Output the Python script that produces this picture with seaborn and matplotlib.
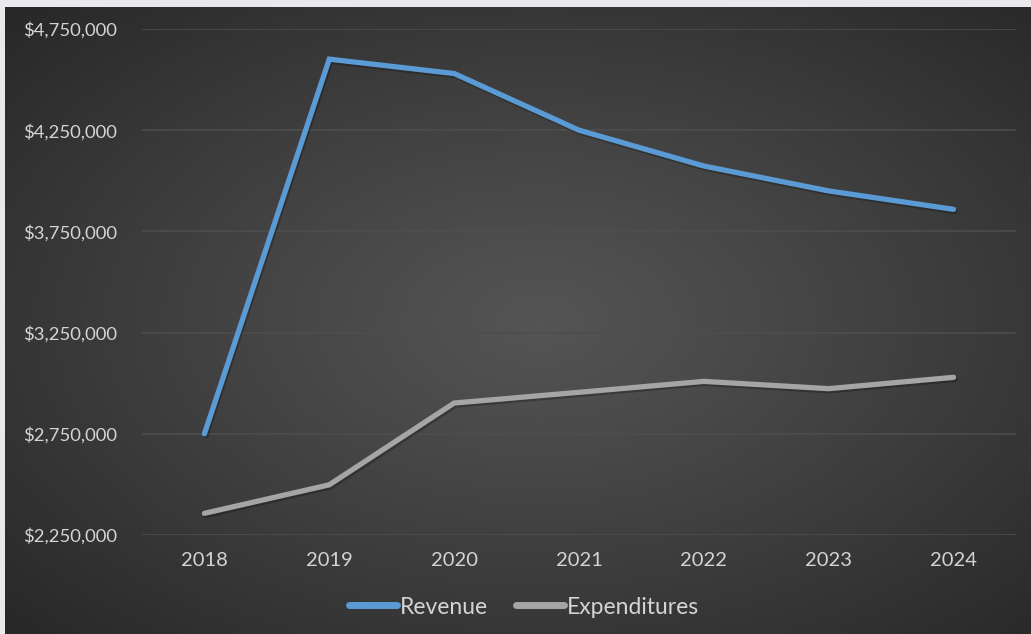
import numpy as np
import pandas as pd
import matplotlib
matplotlib.use("Agg")
import matplotlib.pyplot as plt
import matplotlib.patheffects as pe
from matplotlib.lines import Line2D
from matplotlib.ticker import FuncFormatter
import seaborn as sns

years = ["2018", "2019", "2020", "2021", "2022", "2023", "2024"]
revenue = [2750000, 4601000, 4530000, 4250000, 4073000, 3950000, 3859000]
expenditures = [2357000, 2498000, 2902000, 2955000, 3009000, 2973000, 3029000]
series_names = ["Revenue", "Expenditures"]
colors = ["#5B9BD5", "#A5A5A5"]
y_ticks = [2250000, 2750000, 3250000, 3750000, 4250000, 4750000]

df = pd.DataFrame({
    "Year": years * 2,
    "Value": revenue + expenditures,
    "Series": [series_names[0]] * len(years) + [series_names[1]] * len(years),
})

sns.set_theme(style="white")
plt.rcParams["font.family"] = ["Lato", "DejaVu Sans"]

W, H = 1031, 634
fig = plt.figure(figsize=(W / 100, H / 100), dpi=100)
fig.patch.set_facecolor("#e9e9eb")

# radial gradient background
bg = fig.add_axes([5 / W, 0, 1 - 5 / W, 1 - 7 / H])
bg.set_axis_off()
yy, xx = np.mgrid[0:300, 0:500]
cx, cy = 0.52 * 500, 0.50 * 300
d = np.sqrt(((xx - cx) / 500) ** 2 + ((yy - cy) / 300) ** 2) / 0.72
d = np.clip(d, 0, 1)
c0, c1 = 0.33, 0.155
img = c0 + (c1 - c0) * d ** 1.1
bg.imshow(np.dstack([img, img, img]), aspect="auto", extent=[0, 1, 0, 1], origin="upper")
bg.set_xlim(0, 1)
bg.set_ylim(0, 1)

ax = fig.add_axes([142 / W, 1 - 535 / H, (1016 - 142) / W, (535 - 29) / H])
ax.set_facecolor("none")

sns.lineplot(data=df, x="Year", y="Value", hue="Series", palette=colors,
             linewidth=3.8, ax=ax, legend=False, sort=False)
for ln in ax.get_lines():
    ln.set_solid_capstyle("round")
    ln.set_solid_joinstyle("miter")
    ln.set_path_effects([pe.SimpleLineShadow(offset=(1.0, -1.5), shadow_color="black", alpha=0.25),
                         pe.Normal()])

ax.set_ylim(y_ticks[0], y_ticks[-1])
ax.set_xlim(-0.5, len(years) - 0.5)
ax.set_yticks(y_ticks)
ax.yaxis.set_major_formatter(FuncFormatter(lambda v, p: "${:,.0f}".format(v)))
ax.grid(axis="y", color="#4e4e4e", linewidth=1.1)
ax.grid(axis="x", visible=False)
ax.set_axisbelow(True)
for s in ax.spines.values():
    s.set_visible(False)
ax.tick_params(axis="both", length=0, colors="#d4d4d4", labelsize=13.3)
ax.tick_params(axis="y", pad=18)
ax.tick_params(axis="x", pad=12, labelsize=14.5)
ax.set_xlabel("")
ax.set_ylabel("")

handles = [Line2D([0], [0], color=c, lw=5, solid_capstyle="round") for c in colors]
leg = fig.legend(handles, series_names, loc="center", bbox_to_anchor=(524 / W, 1 - 607 / H),
                 ncol=2, frameon=False, handlelength=2.1, handletextpad=0.12,
                 columnspacing=1.2, fontsize=16.5)
for t in leg.get_texts():
    t.set_color("#d4d4d4")

fig.savefig("out.png", dpi=100, facecolor=fig.get_facecolor())
